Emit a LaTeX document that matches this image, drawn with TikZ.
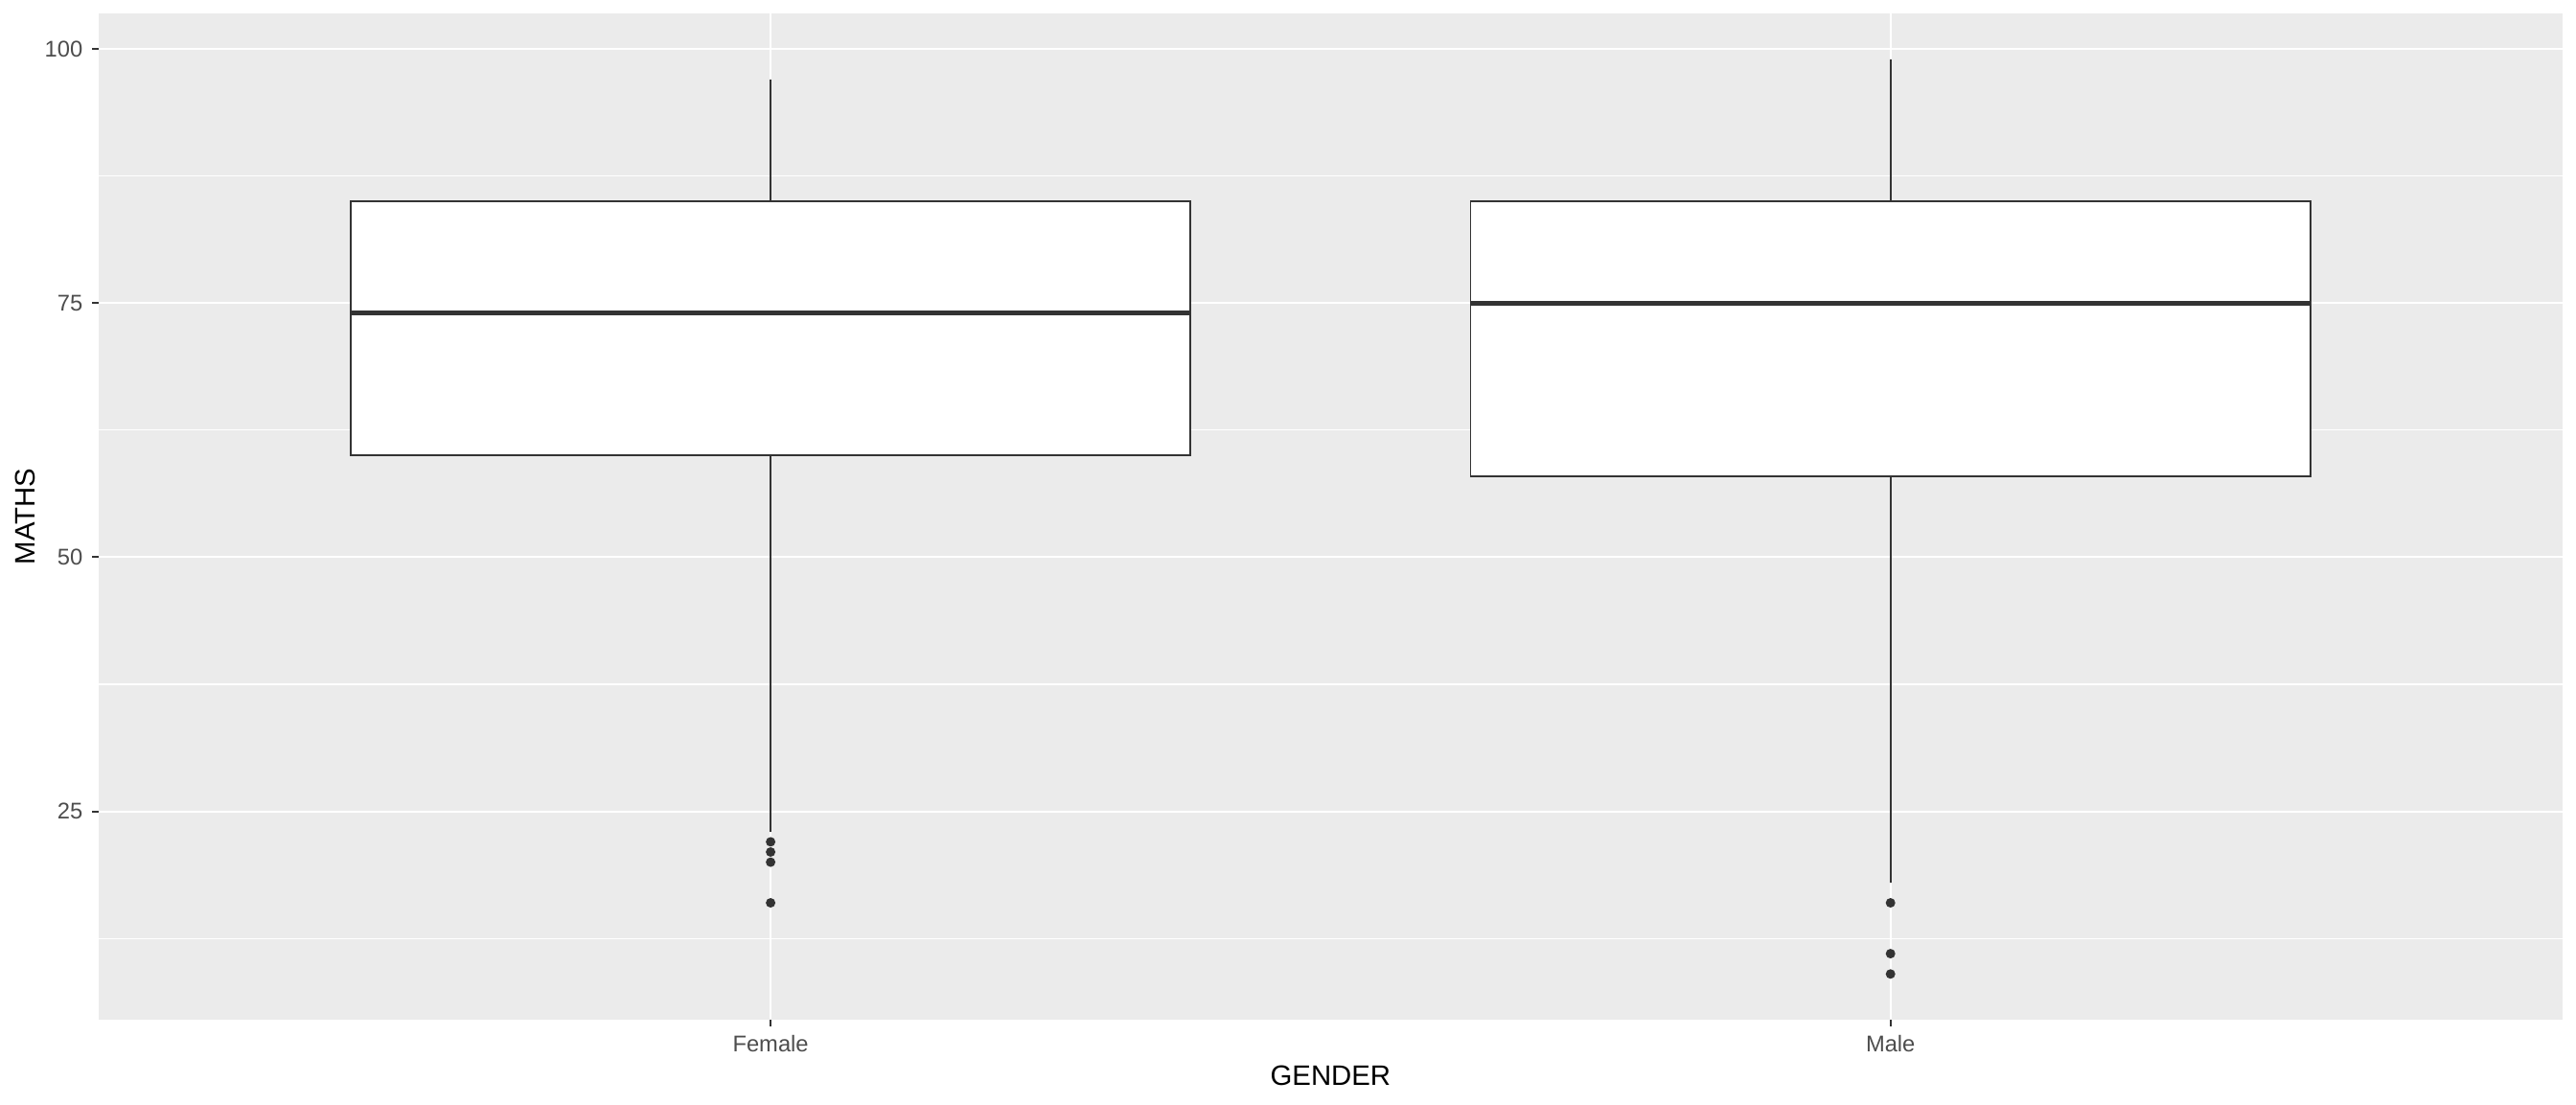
\documentclass[tikz,border=0pt]{standalone}
\usepackage{fontspec}
\setmainfont{Liberation Sans}
\usepackage{xcolor}
\definecolor{panelgrey}{HTML}{EBEBEB}
\definecolor{boxgrey}{HTML}{333333}
\definecolor{ticktext}{HTML}{4D4D4D}
\usetikzlibrary{calc}

\begin{document}
\begin{tikzpicture}[x=11.686cm,y=0.10606cm,
	majorgrid/.style={white,line width=0.6pt},
	minorgrid/.style={white,line width=0.3pt},
	boxline/.style={boxgrey,line width=0.55pt},
	medline/.style={boxgrey,line width=1.4pt},
	ticklab/.style={font=\fontsize{6.75}{8}\selectfont,text=ticktext,inner sep=0pt},
	axtitle/.style={font=\fontsize{8.35}{10}\selectfont,inner sep=0pt}]

\useasboundingbox (0.3119,-3.797) rectangle (2.6121,104.82);

% panel
\fill[panelgrey] (0.4,4.5) rectangle (2.6,103.5);
\foreach \y in {12.5,37.5,62.5,87.5}{
	\draw[minorgrid] (0.4,\y) -- (2.6,\y);
}
\foreach \y in {25,50,75,100}{
	\draw[majorgrid] (0.4,\y) -- (2.6,\y);
	\draw[boxline] (0.4,\y) -- ++(-0.07cm,0);
	\node[ticklab,anchor=east] (ylab\y) at ($(0.4,\y)+(-0.16cm,0)$) {\y};
}
\foreach \x in {1,2}{
	\draw[majorgrid] (\x,4.5) -- (\x,103.5);
	\draw[boxline] (\x,4.5) -- ++(0,-0.07cm);
}

% Female
\draw[boxline] (1,85) -- (1,97);
\draw[boxline] (1,60) -- (1,23);
\filldraw[boxline,fill=white] (0.625,60) rectangle (1.375,85);
\draw[medline] (0.625,74) -- (1.375,74);
\foreach \v in {22,21,20,16}{
	\fill[boxgrey] (1,\v) circle[radius=0.05cm];
}

% Male
\draw[boxline] (2,85) -- (2,99);
\draw[boxline] (2,58) -- (2,18);
\filldraw[boxline,fill=white] (1.625,58) rectangle (2.375,85);
\draw[medline] (1.625,75) -- (2.375,75);
\foreach \v in {16,11,9}{
	\fill[boxgrey] (2,\v) circle[radius=0.05cm];
}

% axis labels
\node[ticklab,anchor=base] (female) at ($(1,4.5)+(0,-0.33cm)$) {Female};
\node[ticklab,anchor=base] (male) at ($(2,4.5)+(0,-0.33cm)$) {Male};
\node[axtitle,anchor=base] (gender) at ($(1.5,4.5)+(0,-0.68cm)$) {GENDER};
\node[axtitle,anchor=base,rotate=90] (maths) at ($(0.4,54)+(-0.66cm,0)$) {MATHS};

\end{tikzpicture}
\end{document}
